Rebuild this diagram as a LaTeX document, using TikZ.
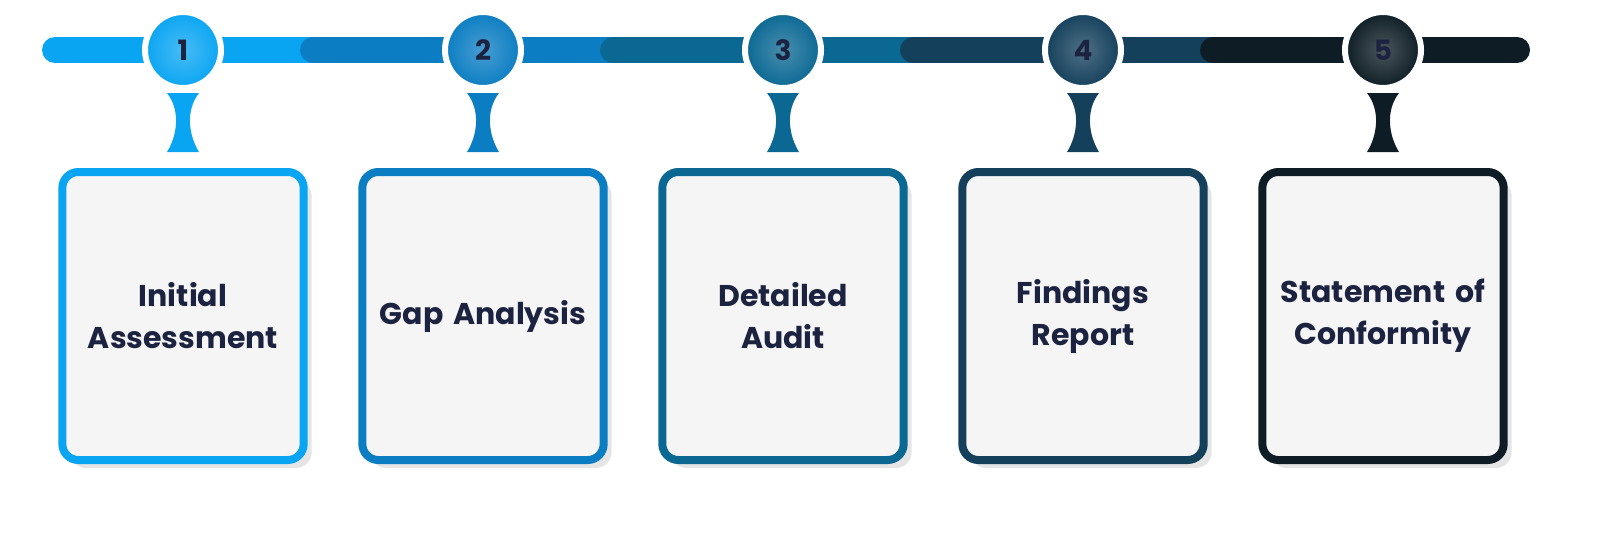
\documentclass[tikz,border=0pt]{standalone}
\usepackage{fontspec}
\setmainfont{Poppins}
\usetikzlibrary{positioning, shadows}
\definecolor{stepA}{HTML}{0AA5F2}
\definecolor{stepB}{HTML}{0B7DC2}
\definecolor{stepC}{HTML}{0B6893}
\definecolor{stepD}{HTML}{14405C}
\definecolor{stepE}{HTML}{0E1D25}
\definecolor{txt}{HTML}{1C2340}
\tikzset{
  stepdot/.style={circle, draw=white, line width=3pt, minimum size=38pt,
    text=txt, font=\bfseries\fontsize{14}{14}\selectfont},
  card/.style={rectangle, rounded corners=8pt, line width=4pt, fill=gray!8,
    minimum width=120pt, minimum height=144pt, text width=114pt, align=center,
    text=txt, font=\bfseries\fontsize{15}{21}\selectfont,
    drop shadow={shadow xshift=4pt, shadow yshift=-4pt, fill=gray!40}}
}
\begin{document}
\begin{tikzpicture}[x=0.5pt, y=-0.5pt]
    % bar
    \foreach \i/\col in {1/stepA, 2/stepB, 3/stepC, 4/stepD, 5/stepE} {
        \pgfmathsetmacro{\xa}{ifthenelse(\i==1, 55, 183+300*(\i-1)-170)}
        \pgfmathsetmacro{\xb}{ifthenelse(\i==5, 1517, 183+300*(\i-1)+135)}
        \draw[\col, line width=13pt, line cap=round] (\xa,50) -- (\xb,50);
    }
    % steps
    \foreach \i/\col/\lbl in {1/stepA/{Initial\\Assessment}, 2/stepB/{Gap Analysis},
        3/stepC/{Detailed\\Audit}, 4/stepD/{Findings\\Report},
        5/stepE/{Statement of\\Conformity}} {
        \node[stepdot, fill=\col, inner color=\col!75!white, outer color=\col]
            (c\i) at (183+300*\i-300, 50) {\i};
        \node[card, draw=\col] (b\i) at (183+300*\i-300, 316) {\lbl};
        \fill[\col] ([xshift=-8pt, yshift=-1pt]c\i.south)
            .. controls ([xshift=-1pt, yshift=-10pt]c\i.south) and ([xshift=-3pt, yshift=16pt]b\i.north) ..
            ([xshift=-8pt, yshift=8pt]b\i.north) -- ([xshift=8pt, yshift=8pt]b\i.north)
            .. controls ([xshift=3pt, yshift=16pt]b\i.north) and ([xshift=1pt, yshift=-10pt]c\i.south) ..
            ([xshift=8pt, yshift=-1pt]c\i.south) -- cycle;
    }
    \pgfresetboundingbox
    \useasboundingbox (0,0) rectangle (1600,541);
\end{tikzpicture}
\end{document}
